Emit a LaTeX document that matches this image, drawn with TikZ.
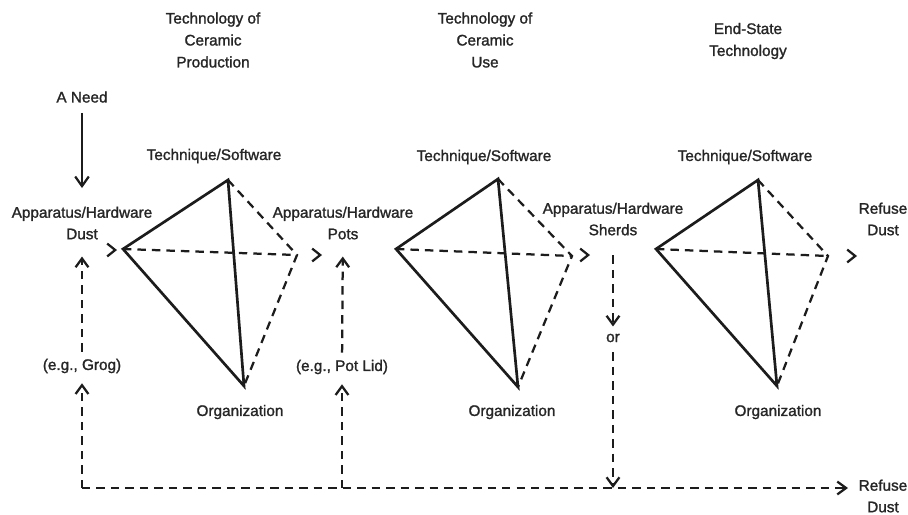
\documentclass[tikz,border=0pt]{standalone}
\usepackage{fontspec}
\setmainfont{Liberation Sans}[BoldFont=Liberation Sans,BoldFeatures={FakeBold=1.4}]
\usepackage{xcolor}
\usepackage{tikz}
\usetikzlibrary{arrows.meta}
\definecolor{tkink}{HTML}{1C1C1C}
\definecolor{tktext}{HTML}{262626}

\begin{document}
\begin{tikzpicture}[
  x=0.025cm, y=-0.025cm,
  lbl/.style={align=center,inner sep=1pt,text=tktext,font=\fontsize{10.9}{15.3}\selectfont\bfseries},
  head/.style={lbl,font=\fontsize{10.9}{15.6}\selectfont\bfseries},
  edge/.style={line width=1.9pt,color=tkink,line join=miter},
  hidden/.style={line width=1.6pt,color=tkink,dash pattern=on 6pt off 4.3pt},
  chev/.style={-{Straight Barb[length=2mm,width=3.2mm]},line width=1.6pt,color=tkink},
  arrow/.style={-{Straight Barb[length=2.4mm,width=3.4mm]},line width=1.6pt,color=tkink},
  flow/.style={hidden,-{Straight Barb[length=2.2mm,width=3.2mm]}}
]
  \useasboundingbox (0,0) rectangle (908,514);
  \node[head] (prod) at (213,40) {Technology of\\Ceramic\\Production};
  \node[head] (use) at (485,40) {Technology of\\Ceramic\\Use};
  \node[head] (endst) at (748,41) {End-State\\Technology};
  \node[lbl] (need) at (82,97) {A Need};
  \node[lbl] (dust) at (82,223) {Apparatus/Hardware\\Dust};
  \node[lbl] (pots) at (343,223) {Apparatus/Hardware\\Pots};
  \node[lbl] (sherds) at (613,219) {Apparatus/Hardware\\Sherds};
  \node[lbl] (refuse) at (883,219) {Refuse\\Dust};
  \node[lbl] (tech1) at (214,156) {Technique/Software};
  \node[lbl] (tech2) at (484,157) {Technique/Software};
  \node[lbl] (tech3) at (745,157) {Technique/Software};
  \node[lbl] (org1) at (240,412) {Organization};
  \node[lbl] (org2) at (512,412) {Organization};
  \node[lbl] (org3) at (778,412) {Organization};
  \node[lbl] (grog) at (82,366) {(e.g., Grog)};
  \node[lbl] (lid) at (342,367) {(e.g., Pot Lid)};
  \node[lbl] (or) at (613,338) {or};
  \node[lbl] (waste) at (883,496) {Refuse\\Dust};

  \coordinate (l1) at (123,249); \coordinate (t1) at (228,180);
  \coordinate (b1) at (244,386); \coordinate (r1) at (297,255);
  \coordinate (l2) at (396,249); \coordinate (t2) at (498,179);
  \coordinate (b2) at (518,387); \coordinate (r2) at (572,256);
  \coordinate (l3) at (656,249); \coordinate (t3) at (758,180);
  \coordinate (b3) at (777,386); \coordinate (r3) at (828,256);
  \coordinate (in1) at (117,250); \coordinate (out1) at (322,255);
  \coordinate (out2) at (590,255); \coordinate (out3) at (857,256);
  \coordinate (grogfoot) at (82,488); \coordinate (lidfoot) at (342,488);
  \coordinate (orfoot) at (613,488); \coordinate (sink) at (848,488);

  \draw[edge] (l1) -- (t1) -- (b1) -- cycle;
  \draw[hidden] (t1) -- (r1) -- (b1);
  \draw[hidden] (l1) -- (r1);
  \draw[edge] (l2) -- (t2) -- (b2) -- cycle;
  \draw[hidden] (t2) -- (r2) -- (b2);
  \draw[hidden] (l2) -- (r2);
  \draw[edge] (l3) -- (t3) -- (b3) -- cycle;
  \draw[hidden] (t3) -- (r3) -- (b3);
  \draw[hidden] (l3) -- (r3);

  \draw[chev] ([xshift=-0.4pt]in1) -- (in1);
  \draw[chev] ([xshift=-0.4pt]out1) -- (out1);
  \draw[chev] ([xshift=-0.4pt]out2) -- (out2);
  \draw[chev] ([xshift=-0.4pt]out3) -- (out3);

  \draw[arrow,shorten <=6pt,shorten >=12pt] (need) -- (dust);
  \draw[flow,shorten >=6pt] (grogfoot) -- (grog);
  \draw[flow,shorten <=4pt,shorten >=11pt] (grog) -- (dust);
  \draw[flow,shorten >=6pt] (lidfoot) -- (lid);
  \draw[flow,shorten <=4pt,shorten >=11pt] (lid) -- (pots);
  \draw[flow,shorten <=13pt,shorten >=4pt] (sherds) -- (or);
  \draw[flow,shorten <=6pt] (or) -- (orfoot);
  \draw[flow] (grogfoot) -- (sink);
\end{tikzpicture}
\end{document}
